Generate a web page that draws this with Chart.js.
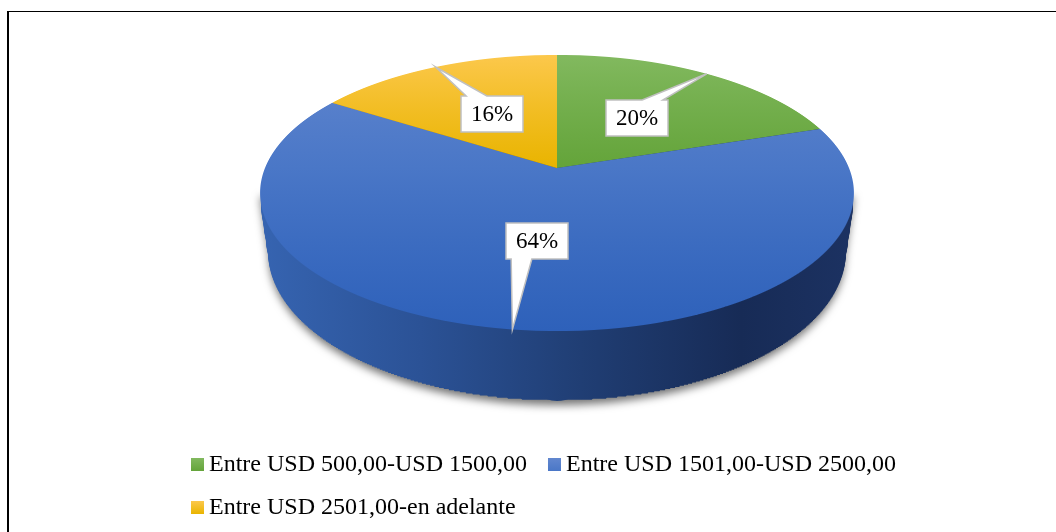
<!DOCTYPE html>
<html>
<head>
<meta charset="utf-8">
<script src="https://cdn.jsdelivr.net/npm/chart.js@4.4.1/dist/chart.umd.min.js"></script>
<style>
  html, body { margin: 0; padding: 0; background: #fff; overflow: hidden; }
  #wrap { position: relative; width: 1056px; height: 532px; overflow: hidden; }
  #frame { position: absolute; left: 7px; top: 11px; width: 1200px; height: 700px;
           border-top: 1px solid #000; border-left: 2px solid #000; pointer-events: none; }
  canvas { position: absolute; left: 0; top: 0; }
</style>
</head>
<body>
<div id="wrap">
  <canvas id="chart" width="1056" height="532"></canvas>
  <div id="frame"></div>
</div>
<script>
// Income ranges and their share of respondents (%)
const categories = [
  'Entre USD 500,00-USD 1500,00',
  'Entre USD 1501,00-USD 2500,00',
  'Entre USD 2501,00-en adelante'
];
const shares = [20, 64, 16];

// Slice colours: flat base, top-face gradient (back -> front), side gradient (left -> right)
const baseColors = ['#70AD47', '#4472C4', '#FFC000'];
const faceShades = [
  ['#82b95f', '#64a43a', '#589a2e'],
  ['#6287cf', '#4a77c7', '#2e61ba'],
  ['#fcc84c', '#e9b400', '#d9a700']
];
const sideShades = [
  ['#5a8c39', '#4a7630', '#3a5e26', '#2b461c', '#325020'],
  ['#3664b1', '#2b5296', '#203e74', '#172b56', '#1c3262'],
  ['#cc9a00', '#ad8200', '#8c6a00', '#6a5000', '#785a00']
];
const sideStops = [0, 0.27, 0.54, 0.81, 1];

// Tilted, perspective view of the pie disc
const view = { cx: 557, cy: 168, rx: 292, ry: 133.5, k: 0.181, depth: 57.3, taper: 0.03, bands: 4 };
const labelStyle = { size: 23, padX: 10, height: 36, boxAt: 0.5, tipAt: 1.0 };
const legendStyle = { size: 24, left: 191, top: 464.5, box: 13, textGap: 5, itemGap: 21, rowGap: 43, maxRight: 1000 };
const serif = '"Liberation Serif", "Times New Roman", serif';

// plane point (u, w) in radius units, t = fraction of the disc thickness
function screenPoint(u, w, t) {
  const s = 1 / (1 - view.k * w);
  return {
    x: view.cx + view.rx * u * s * (1 - view.taper * t),
    y: view.cy + view.ry * w * s + view.depth * s * t
  };
}
function rowToW(y) {
  const dy = y - view.cy;
  return dy / (view.ry + view.k * dy);
}
function withFill(options, fill) {
  return Object.create(options, {
    backgroundColor: { value: fill, enumerable: true },
    borderWidth: { value: 0, enumerable: true }
  });
}

// Paints every arc of the dataset, mapping the natural band [n0, n1] onto screen rows [Y0, Y1]
function paintBand(chart, arcs, ox, n0, n1, Y0, Y1, sx, fillFor) {
  const ctx = chart.ctx;
  const dpr = chart.currentDevicePixelRatio || 1;
  const sy = (Y1 - Y0) / (n1 - n0);
  ctx.save();
  ctx.beginPath();
  ctx.rect(0, Y0, chart.width, Y1 - Y0);
  ctx.clip();
  ctx.setTransform(dpr * sx, 0, 0, dpr * sy, dpr * (view.cx - ox * sx), dpr * (Y0 - n0 * sy));
  arcs.forEach((arc, i) => {
    const saved = arc.options;
    arc.options = withFill(saved, fillFor(i, ctx, sx));
    arc.draw(ctx);
    arc.options = saved;
  });
  ctx.restore();
}

const pie3d = {
  id: 'pie3d',
  beforeDatasetsDraw(chart) {
    const arcs = chart.getDatasetMeta(0).data;
    if (!arcs.length) return false;
    const ctx = chart.ctx;
    const dpr = chart.currentDevicePixelRatio || 1;
    const ox = arcs[0].x, oy = arcs[0].y, r = arcs[0].outerRadius;

    // soft drop shadow under the side wall
    const a0 = Math.asin(view.k);
    ctx.save();
    ctx.translate(-3000, 0);
    ctx.beginPath();
    for (let i = 0; i <= 120; i++) {
      const a = a0 + (Math.PI - 2 * a0) * i / 120;
      const p = screenPoint(Math.cos(a), Math.sin(a), 1);
      if (i === 0) ctx.moveTo(p.x, p.y); else ctx.lineTo(p.x, p.y);
    }
    const pl = screenPoint(Math.cos(Math.PI - a0), Math.sin(Math.PI - a0), 0);
    const pr = screenPoint(Math.cos(a0), Math.sin(a0), 0);
    ctx.lineTo(pl.x, pl.y);
    ctx.lineTo(pr.x, pr.y);
    ctx.closePath();
    ctx.shadowColor = 'rgba(0,0,0,0.55)';
    ctx.shadowBlur = 9;
    ctx.shadowOffsetX = 3000 * dpr;
    ctx.shadowOffsetY = 4 * dpr;
    ctx.fillStyle = '#000';
    ctx.fill();
    ctx.restore();

    const yTop = Math.floor(view.cy - view.ry / (1 + view.k));
    const yBot = Math.ceil(view.cy + view.ry / (1 - view.k));

    // side wall: each row of the top face swept down through the disc thickness
    const sideFill = (i, c, sx) => {
      const g = c.createLinearGradient(ox - 297 / sx, 0, ox + 297 / sx, 0);
      sideShades[i].forEach((col, j) => g.addColorStop(sideStops[j], col));
      return g;
    };
    for (let y = yTop; y < yBot; y++) {
      const w0 = rowToW(y), w1 = rowToW(y + 1);
      const s = 1 / (1 - view.k * (w0 + w1) / 2);
      const D = view.depth * s;
      for (let j = 0; j < view.bands; j++) {
        const t0 = D * j / view.bands, t1 = D * (j + 1) / view.bands;
        const sx = view.rx * s * (1 - view.taper * (j + 0.5) / view.bands) / r;
        paintBand(chart, arcs, ox, oy + r * w0, oy + r * w1, y + t0, y + 1 + t1, sx, sideFill);
      }
    }

    // top face
    const faceGrads = faceShades.map(st => {
      const g = ctx.createLinearGradient(0, oy - r, 0, oy + r);
      g.addColorStop(0, st[0]);
      g.addColorStop(0.5, st[1]);
      g.addColorStop(1, st[2]);
      return g;
    });
    for (let y = yTop; y < yBot; y++) {
      const w0 = rowToW(y), w1 = rowToW(y + 1);
      const s = 1 / (1 - view.k * (w0 + w1) / 2);
      paintBand(chart, arcs, ox, oy + r * w0, oy + r * w1, y, y + 1, view.rx * s / r, i => faceGrads[i]);
    }
    return false;
  },

  afterDraw(chart) {
    const ctx = chart.ctx;
    const arcs = chart.getDatasetMeta(0).data;
    ctx.save();

    // value callouts
    ctx.font = `${labelStyle.size}px ${serif}`;
    arcs.forEach((arc, i) => {
      const a = (arc.startAngle + arc.endAngle) / 2;
      const tip = screenPoint(Math.cos(a) * labelStyle.tipAt, Math.sin(a) * labelStyle.tipAt, 0);
      const mid = screenPoint(Math.cos(a) * labelStyle.boxAt, Math.sin(a) * labelStyle.boxAt, 0);
      const text = shares[i] + '%';
      const w = Math.round(ctx.measureText(text).width + 2 * labelStyle.padX);
      const h = labelStyle.height;
      const L = Math.round(mid.x - w / 2), T = Math.round(mid.y - h / 2);
      calloutPath(ctx, L, T, w, h, tip);
      ctx.fillStyle = '#fff';
      ctx.fill();
      ctx.strokeStyle = '#c0c0c0';
      ctx.lineWidth = 1.5;
      ctx.lineJoin = 'miter';
      ctx.stroke();
      ctx.fillStyle = '#000';
      ctx.textAlign = 'center';
      ctx.textBaseline = 'middle';
      ctx.fillText(text, L + w / 2, T + h / 2 + 1);
    });

    // legend
    ctx.font = `${legendStyle.size}px ${serif}`;
    ctx.textAlign = 'left';
    ctx.textBaseline = 'middle';
    let x = legendStyle.left, y = legendStyle.top;
    const b = legendStyle.box;
    categories.forEach((name, i) => {
      const itemW = b + legendStyle.textGap + ctx.measureText(name).width;
      if (x > legendStyle.left && x + itemW > legendStyle.maxRight) {
        x = legendStyle.left;
        y += legendStyle.rowGap;
      }
      const g = ctx.createLinearGradient(0, y - b / 2, 0, y + b / 2);
      g.addColorStop(0, faceShades[i][0]);
      g.addColorStop(1, faceShades[i][1]);
      ctx.fillStyle = g;
      ctx.fillRect(x, Math.round(y - b / 2), b, b);
      ctx.fillStyle = '#000';
      ctx.fillText(name, x + b + legendStyle.textGap, y);
      x += itemW + legendStyle.itemGap;
    });
    ctx.restore();
  }
};

// Rectangle with a wedge pointing at the tip, drawn clockwise
function calloutPath(ctx, L, T, W, H, tip) {
  const R = L + W, B = T + H;
  const dx = (tip.x - (L + W / 2)) / W, dy = (tip.y - (T + H / 2)) / H;
  const vertical = Math.abs(dy) >= Math.abs(dx);
  const side = vertical ? (dy < 0 ? 'top' : 'bottom') : (dx < 0 ? 'left' : 'right');
  const spanX = tip.x < L + W / 2 ? [L + W / 12, L + 5 * W / 12] : [L + 7 * W / 12, L + 11 * W / 12];
  const spanY = tip.y < T + H / 2 ? [T + H / 12, T + 5 * H / 12] : [T + 7 * H / 12, T + 11 * H / 12];
  ctx.beginPath();
  ctx.moveTo(L, T);
  if (side === 'top') { ctx.lineTo(spanX[0], T); ctx.lineTo(tip.x, tip.y); ctx.lineTo(spanX[1], T); }
  ctx.lineTo(R, T);
  if (side === 'right') { ctx.lineTo(R, spanY[0]); ctx.lineTo(tip.x, tip.y); ctx.lineTo(R, spanY[1]); }
  ctx.lineTo(R, B);
  if (side === 'bottom') { ctx.lineTo(spanX[1], B); ctx.lineTo(tip.x, tip.y); ctx.lineTo(spanX[0], B); }
  ctx.lineTo(L, B);
  if (side === 'left') { ctx.lineTo(L, spanY[1]); ctx.lineTo(tip.x, tip.y); ctx.lineTo(L, spanY[0]); }
  ctx.closePath();
}

new Chart(document.getElementById('chart'), {
  type: 'pie',
  data: {
    labels: categories,
    datasets: [{ data: shares, backgroundColor: baseColors, borderWidth: 0 }]
  },
  options: {
    responsive: false,
    animation: false,
    events: [],
    layout: { padding: 40 },
    plugins: { legend: { display: false }, tooltip: { enabled: false } }
  },
  plugins: [pie3d]
});
</script>
</body>
</html>
